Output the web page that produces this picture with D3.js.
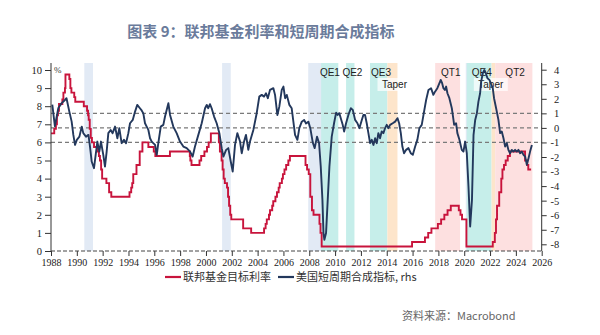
<!DOCTYPE html>
<html>
<head>
<meta charset="utf-8">
<script src="https://cdn.jsdelivr.net/npm/d3@7"></script>
<style>
  body { margin: 0; background: #fff; }
</style>
</head>
<body>
<svg id="chart" width="600" height="335"></svg>
<script>
// Fed funds target rate (upper bound, %): change dates (decimal years) and levels
const rateDates = [1988.00, 1988.25, 1988.38, 1988.46, 1988.54, 1988.62, 1988.88, 1988.96, 1989.08, 1989.12,
  1989.42, 1989.50, 1989.58, 1989.80, 1989.88, 1990.54, 1990.79, 1990.87, 1990.92, 1991.00,
  1991.08, 1991.17, 1991.33, 1991.58, 1991.71, 1991.79, 1991.88, 1991.96, 1992.29, 1992.50,
  1992.67, 1994.08, 1994.21, 1994.29, 1994.37, 1994.62, 1994.87, 1995.08, 1995.54, 1995.96,
  1996.08, 1997.21, 1998.75, 1998.79, 1998.88, 1999.50, 1999.63, 1999.88, 2000.08, 2000.21,
  2000.38, 2001.00, 2001.08, 2001.21, 2001.29, 2001.37, 2001.46, 2001.63, 2001.71, 2001.79,
  2001.88, 2001.96, 2002.88, 2003.50, 2004.50, 2004.62, 2004.71, 2004.88, 2004.96, 2005.13,
  2005.21, 2005.38, 2005.50, 2005.63, 2005.71, 2005.88, 2005.96, 2006.08, 2006.21, 2006.38,
  2006.50, 2007.71, 2007.83, 2007.96, 2008.08, 2008.21, 2008.33, 2008.79, 2008.87, 2008.96,
  2015.96, 2016.96, 2017.21, 2017.46, 2017.96, 2018.21, 2018.46, 2018.71, 2018.96, 2019.58,
  2019.71, 2019.83, 2020.17, 2022.21, 2022.37, 2022.46, 2022.54, 2022.71, 2022.87, 2022.96,
  2023.08, 2023.21, 2023.37, 2023.54, 2024.71, 2024.87, 2024.96, 2025.18];
const rateValues = [6.5, 6.75, 7.0, 7.5, 7.75, 8.125, 8.375, 8.75, 9.0, 9.75,
  9.5, 9.0, 8.75, 8.5, 8.25, 8.0, 7.75, 7.5, 7.25, 6.75,
  6.25, 6.0, 5.75, 5.5, 5.25, 5.0, 4.5, 4.0, 3.75, 3.25,
  3.0, 3.25, 3.5, 3.75, 4.25, 4.75, 5.5, 6.0, 5.75, 5.5,
  5.25, 5.5, 5.25, 5.0, 4.75, 5.0, 5.25, 5.5, 5.75, 6.0,
  6.5, 6.0, 5.5, 5.0, 4.5, 4.0, 3.75, 3.5, 3.0, 2.5,
  2.0, 1.75, 1.25, 1.0, 1.25, 1.5, 1.75, 2.0, 2.25, 2.5,
  2.75, 3.0, 3.25, 3.5, 3.75, 4.0, 4.25, 4.5, 4.75, 5.0,
  5.25, 4.75, 4.5, 4.25, 3.0, 2.25, 2.0, 1.5, 1.0, 0.25,
  0.5, 0.75, 1.0, 1.25, 1.5, 1.75, 2.0, 2.25, 2.5, 2.25,
  2.0, 1.75, 0.25, 0.5, 1.0, 1.75, 2.5, 3.25, 4.0, 4.5,
  4.75, 5.0, 5.25, 5.5, 5.0, 4.75, 4.5, 4.5];

// US short-cycle composite indicator (rhs)
const ciDates = [1988.10, 1988.30, 1988.57, 1988.83, 1989.08, 1989.20, 1989.42, 1989.60, 1989.73, 1989.86,
  1990.00, 1990.20, 1990.38, 1990.50, 1990.71, 1990.90, 1991.02, 1991.15, 1991.33, 1991.46,
  1991.59, 1991.74, 1991.87, 1992.05, 1992.18, 1992.31, 1992.44, 1992.62, 1992.77, 1992.96,
  1993.14, 1993.29, 1993.47, 1993.65, 1993.81, 1993.99, 1994.12, 1994.33, 1994.51, 1994.68,
  1994.84, 1995.02, 1995.15, 1995.28, 1995.41, 1995.54, 1995.67, 1995.80, 1995.92, 1996.06,
  1996.19, 1996.31, 1996.50, 1996.70, 1996.83, 1997.09, 1997.22, 1997.47, 1997.73, 1997.99,
  1998.25, 1998.51, 1998.77, 1998.97, 1999.15, 1999.41, 1999.67, 1999.93, 2000.06, 2000.18,
  2000.31, 2000.44, 2000.63, 2000.83, 2001.04, 2001.22, 2001.35, 2001.56, 2001.73, 2001.92,
  2002.07, 2002.25, 2002.43, 2002.64, 2002.77, 2002.95, 2003.10, 2003.28, 2003.41, 2003.67,
  2003.93, 2004.13, 2004.32, 2004.50, 2004.65, 2004.79, 2004.96, 2005.22, 2005.35, 2005.53,
  2005.68, 2005.87, 2006.00, 2006.13, 2006.26, 2006.46, 2006.64, 2006.77, 2006.90, 2007.08,
  2007.23, 2007.42, 2007.60, 2007.75, 2007.93, 2008.08, 2008.27, 2008.42, 2008.60, 2008.76,
  2008.89, 2009.02, 2009.10, 2009.17, 2009.30, 2009.43, 2009.56, 2009.74, 2009.92, 2010.08,
  2010.20, 2010.33, 2010.44, 2010.59, 2010.70, 2010.85, 2011.03, 2011.22, 2011.37, 2011.55,
  2011.73, 2011.88, 2012.07, 2012.19, 2012.32, 2012.45, 2012.58, 2012.71, 2012.84, 2012.97,
  2013.10, 2013.23, 2013.35, 2013.48, 2013.61, 2013.74, 2013.87, 2014.00, 2014.13, 2014.26,
  2014.46, 2014.65, 2014.83, 2014.96, 2015.09, 2015.21, 2015.34, 2015.50, 2015.68, 2015.86,
  2016.02, 2016.20, 2016.37, 2016.53, 2016.71, 2016.89, 2017.05, 2017.23, 2017.43, 2017.61,
  2017.74, 2017.92, 2018.08, 2018.18, 2018.29, 2018.39, 2018.50, 2018.60, 2018.70, 2018.85,
  2019.04, 2019.16, 2019.22, 2019.37, 2019.47, 2019.63, 2019.81, 2019.94, 2020.07, 2020.20,
  2020.33, 2020.46, 2020.60, 2020.72, 2020.85, 2020.98, 2021.10, 2021.23, 2021.31, 2021.44,
  2021.56, 2021.67, 2021.80, 2021.95, 2022.06, 2022.21, 2022.31, 2022.47, 2022.65, 2022.78,
  2022.91, 2023.04, 2023.17, 2023.30, 2023.42, 2023.55, 2023.68, 2023.81, 2023.94, 2024.07,
  2024.20, 2024.33, 2024.46, 2024.59, 2024.72, 2024.85, 2024.98, 2025.10, 2025.24];
const ciValues = [1.6, 0.12, 1.37, 1.7, 1.92, 2.04, 1.12, 0.43, -0.48, -1.17,
  -0.82, -0.6, 0.09, -0.36, -0.6, -0.48, -1.28, -2.31, -2.77, -1.85,
  -0.94, -1.63, -0.94, -1.85, -2.66, -1.63, -0.36, -0.14, -0.36, 0.09,
  -0.71, -0.02, -1.05, -0.82, -1.05, -0.36, 0.32, 0.55, 1.12, 1.58,
  1.4, 1.2, 1.0, 0.32, 0.09, -0.14, -0.71, -0.94, -1.05, -1.17,
  -1.85, -1.05, 0.09, 0.21, 0.78, 1.7, 0.89, 0.09, -0.36, -0.94,
  -1.28, -1.39, -1.63, -1.97, -1.28, -0.48, 0.32, 1.35, 1.58, 1.35,
  1.63, 1.35, 0.78, 0.32, -0.36, -1.39, -1.97, -1.51, -1.39, -2.31,
  -3.0, -1.17, -0.36, -0.94, -1.74, -0.94, -0.48, -1.51, -0.94, -0.14,
  1.01, 2.15, 2.27, 2.15, 2.38, 2.04, 2.61, 2.73, 2.27, 0.89,
  1.46, 2.61, 2.84, 2.04, 2.27, 1.58, 1.35, 0.43, -0.48, -0.82,
  -0.02, 0.43, 0.55, 0.3, 0.43, -0.02, -1.0, -1.39, -0.6, -1.05,
  -2.66, -4.95, -7.23, -7.69, -7.23, -4.95, -2.66, -0.6, 0.32, 1.05,
  0.89, 1.01, 0.67, 0.21, -0.25, 0.32, 0.89, 1.35, 1.24, 0.55,
  0.32, -0.02, 0.55, 0.89, 0.89, 0.32, -0.36, -1.05, -0.82, -1.17,
  -0.71, -1.05, -0.36, -0.71, -0.25, -0.36, -0.02, 0.21, -0.02, 0.21,
  0.32, 0.43, 0.67, 0.32, -0.36, -1.28, -1.74, -1.51, -1.39, -1.74,
  -1.85, -1.28, -0.82, -0.02, 0.21, 1.12, 1.92, 2.61, 2.73, 2.27,
  2.49, 2.73, 3.07, 3.3, 3.07, 2.73, 2.61, 2.84, 2.38, 2.04,
  1.35, 0.6, 0.21, 0.32, -0.36, -0.82, -1.51, -1.63, -0.94, -1.74,
  -4.03, -6.78, -4.95, -0.5, 0.55, 1.01, 1.81, 2.38, 3.18, 3.76,
  3.98, 3.76, 3.41, 3.3, 3.07, 2.73, 2.04, 1.35, 0.55, -0.36,
  -0.25, -0.71, -1.28, -1.05, -1.51, -1.74, -1.51, -1.63, -1.51, -1.63,
  -1.51, -1.74, -1.63, -1.85, -1.97, -2.54, -2.08, -1.63, -1.17];

// Axis ticks
const xTicks = d3.range(1988, 2027, 2);
const leftTicks = d3.range(0, 11);
const rightTicks = d3.range(-8, 5);
const guideLevels = [1, 0, -1];

// Shaded periods (start, end) in decimal years
const recessions = [[1990.58, 1991.25], [2001.25, 2001.92], [2007.92, 2009.5], [2020.12, 2020.33]];
const qePeriods = [[2008.92, 2010.25], [2010.85, 2011.5], [2012.7, 2014.05], [2020.2, 2022.12]];
const taperPeriods = [[2014.05, 2014.83], [2022.12, 2022.4]];
const qtPeriods = [[2017.75, 2019.68], [2022.4, 2025.28]];

// Period labels: text, centre year, row
const periodLabels = [
  { text: "QE1", year: 2009.6, row: 0 },
  { text: "QE2", year: 2011.34, row: 0 },
  { text: "QE3", year: 2013.56, row: 0 },
  { text: "Taper", year: 2014.6, row: 1, boxed: true },
  { text: "QT1", year: 2018.96, row: 0 },
  { text: "QE4", year: 2021.36, row: 0 },
  { text: "Taper", year: 2022.06, row: 1, boxed: true },
  { text: "QT2", year: 2023.94, row: 0 }
];

const svg = d3.select("#chart");
const plot = { left: 51, right: 541.7, top: 63, bottom: 251 };

const x = d3.scaleLinear().domain([1988, 2026]).range([plot.left, plot.right]);
const yL = d3.scaleLinear().domain([0, 10]).range([plot.bottom, 70]);
const yR = d3.scaleLinear().domain([-8, 4]).range([244.3, 69.7]);

const serif = "'Liberation Serif', 'DejaVu Serif', serif";
const cjk = "'Noto Sans CJK SC', 'Noto Sans', sans-serif";

// Title
svg.append("text")
  .attr("x", 261).attr("y", 37)
  .attr("text-anchor", "middle")
  .attr("font-family", cjk)
  .attr("font-size", 15)
  .attr("font-weight", 700)
  .attr("fill", "#6a7b9b")
  .text("图表 9：联邦基金利率和短周期合成指标");

// Shaded periods
function bands(periods, color) {
  svg.append("g").selectAll("rect").data(periods).join("rect")
    .attr("x", d => x(d[0]))
    .attr("width", d => x(d[1]) - x(d[0]))
    .attr("y", plot.top)
    .attr("height", plot.bottom - plot.top)
    .attr("fill", color);
}
bands(recessions, "#e2eaf5");
bands(qePeriods, "#c6eeea");
bands(taperPeriods, "#fde5cb");
bands(qtPeriods, "#fde0e0");

// Period labels
const labelG = svg.append("g")
  .attr("font-family", "'Liberation Sans Narrow', 'Liberation Sans', sans-serif")
  .attr("font-size", 10)
  .attr("fill", "#222");
periodLabels.forEach(d => {
  const yPos = d.row === 0 ? 75.5 : 88;
  if (d.boxed) {
    labelG.append("rect")
      .attr("x", x(d.year) - 17).attr("y", yPos - 10)
      .attr("width", 34).attr("height", 13)
      .attr("fill", "#fff").attr("fill-opacity", 0.7);
  }
  labelG.append("text")
    .attr("x", x(d.year)).attr("y", yPos)
    .attr("text-anchor", "middle")
    .text(d.text);
});

// Dashed guide lines on the rhs scale
svg.append("g").selectAll("line").data(guideLevels).join("line")
  .attr("x1", plot.left).attr("x2", plot.right)
  .attr("y1", d => yR(d)).attr("y2", d => yR(d))
  .attr("stroke", "#7a7a7a")
  .attr("stroke-width", 1.2)
  .attr("stroke-dasharray", "4,3");

// Fed funds target rate
const rateData = rateDates.map((d, i) => [d, rateValues[i]]);
svg.append("path")
  .datum(rateData)
  .attr("fill", "none")
  .attr("stroke", "#c8143c")
  .attr("stroke-width", 1.9)
  .attr("d", d3.line().x(d => x(d[0])).y(d => yL(d[1])).curve(d3.curveStepAfter));

// Composite indicator
const ciData = ciDates.map((d, i) => [d, ciValues[i]]);
svg.append("path")
  .datum(ciData)
  .attr("fill", "none")
  .attr("stroke", "#23385c")
  .attr("stroke-width", 1.9)
  .attr("stroke-linejoin", "round")
  .attr("d", d3.line().x(d => x(d[0])).y(d => yR(d[1])));

// Left axis
const leftAxis = svg.append("g")
  .attr("transform", `translate(${plot.left},0)`)
  .call(d3.axisLeft(yL).tickValues(leftTicks).tickSize(6).tickPadding(3).tickFormat(d3.format("d")));
leftAxis.select(".domain").remove();
leftAxis.append("line").attr("y1", plot.top).attr("y2", plot.bottom).attr("stroke", "#333");
leftAxis.selectAll("text").attr("font-family", serif).attr("font-size", 10.5).attr("fill", "#222");
leftAxis.selectAll(".tick line").attr("stroke", "#333");

svg.append("text")
  .attr("x", 54).attr("y", 73)
  .attr("font-family", serif).attr("font-size", 9).attr("fill", "#333")
  .text("%");

// Right axis
const rightAxis = svg.append("g")
  .attr("transform", `translate(${plot.right},0)`)
  .call(d3.axisRight(yR).tickValues(rightTicks).tickSize(5).tickPadding(3)
    .tickFormat(d => d < 0 ? "-" + Math.abs(d) : String(d)));
rightAxis.select(".domain").remove();
rightAxis.append("line").attr("y1", plot.top).attr("y2", plot.bottom).attr("stroke", "#333");
rightAxis.selectAll("text")
  .attr("text-anchor", "end").attr("x", 17.5)
  .attr("font-family", serif).attr("font-size", 10.5).attr("fill", "#222");
rightAxis.selectAll(".tick line").attr("stroke", "#333");

// Bottom axis
const bottomAxis = svg.append("g")
  .attr("transform", `translate(0,${plot.bottom})`)
  .call(d3.axisBottom(x).tickValues(xTicks).tickSize(5).tickPadding(3).tickFormat(d3.format("d")));
bottomAxis.select(".domain").remove();
bottomAxis.append("line").attr("x1", plot.left).attr("x2", plot.right)
  .attr("stroke", "#444").attr("stroke-dasharray", "4,2");
bottomAxis.selectAll("text").attr("font-family", serif).attr("font-size", 10).attr("fill", "#222");
bottomAxis.selectAll(".tick line").attr("stroke", "#333");

// Legend
const legend = svg.append("g").attr("font-family", cjk).attr("font-size", 11).attr("fill", "#333");
const legendItems = [
  { label: "联邦基金目标利率", color: "#c8143c", x: 165 },
  { label: "美国短周期合成指标, rhs", color: "#23385c", x: 278 }
];
legendItems.forEach(d => {
  legend.append("line").attr("x1", d.x).attr("x2", d.x + 16)
    .attr("y1", 277).attr("y2", 277)
    .attr("stroke", d.color).attr("stroke-width", 2.2);
  legend.append("text").attr("x", d.x + 18).attr("y", 281).text(d.label);
});

// Source
svg.append("text")
  .attr("x", 402).attr("y", 320)
  .attr("font-family", cjk).attr("font-size", 11).attr("fill", "#666")
  .text("资料来源：Macrobond");
</script>
</body>
</html>
